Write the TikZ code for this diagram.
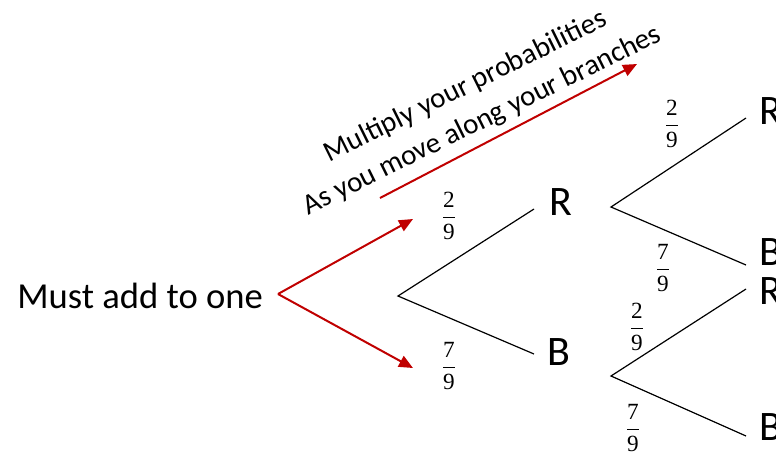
\documentclass[tikz,border=0pt]{standalone}
\usepackage{amsmath}
\usepackage{fontspec}
\setmainfont{Carlito}
\newfontfamily\fracfont{Liberation Serif}
\usetikzlibrary{positioning,arrows.meta}
\definecolor{hintred}{RGB}{192,0,0}
\newcommand\fr[2]{$\dfrac{\text{\fracfont #1}}{\text{\fracfont #2}}$}

\begin{document}
\begin{tikzpicture}[
  x=0.5pt, y=-0.5pt,
  lbl/.style={inner sep=0pt, font=\fontsize{21}{25}\selectfont},
  frac/.style={inner sep=0pt, font=\fontsize{11.6}{14}\selectfont},
  branch/.style={draw=black, line width=0.6pt},
  hint/.style={-{Triangle[length=7pt,width=6pt]}, draw=hintred, line width=1pt}
]
\useasboundingbox (0,0) rectangle (776,452);

\node[inner sep=0pt, anchor=base west, font=\fontsize{18.3}{22}\selectfont] (must) at (17,308) {Must add to one};
\node[inner sep=2pt, align=center, rotate=26.3, font=\fontsize{14.5}{19}\selectfont] (mult) at (474,104)
  {Multiply your probabilities\\As you move along your branches};

% first level
\coordinate (f0) at (398,296);
\coordinate (f0r) at (534,209);
\coordinate (f0b) at (534,354);
\node[lbl] (r1) at (561,202) {R};
\node[lbl] (b1) at (559,352) {B};
\draw[branch] (f0r) -- (f0) -- (f0b);
\node[frac] (p0r) at (449,216) {\fr{2}{9}};
\node[frac] (p0b) at (449,366) {\fr{7}{9}};

% second level
\coordinate (f1) at (611,207);
\coordinate (f1r) at (746,118);
\coordinate (f1b) at (746,265);
\coordinate (f2) at (611,376);
\coordinate (f2r) at (746,289);
\coordinate (f2b) at (746,436);
\draw[branch] (f1r) -- (f1) -- (f1b);
\draw[branch] (f2r) -- (f2) -- (f2b);
\node[lbl, anchor=west] (r2) at (759,111) {R};
\node[lbl, anchor=west] (b2) at (759,252) {B};
\node[lbl, anchor=west] (r3) at (759,291) {R};
\node[lbl, anchor=west] (b3) at (759,427) {B};
\node[frac] (p1r) at (672,124) {\fr{2}{9}};
\node[frac] (p1b) at (663,268) {\fr{7}{9}};
\node[frac] (p2r) at (637,327) {\fr{2}{9}};
\node[frac] (p2b) at (633,428) {\fr{7}{9}};

% red hints
\coordinate (split) at (278,294);
\coordinate (tipr) at (413,219);
\coordinate (tipb) at (413,368);
\coordinate (ms) at (380,198);
\coordinate (me) at (637,64);
\draw[hint] (split) -- (tipr);
\draw[hint] (split) -- (tipb);
\draw[hint] (ms) -- (me);
\end{tikzpicture}
\end{document}
